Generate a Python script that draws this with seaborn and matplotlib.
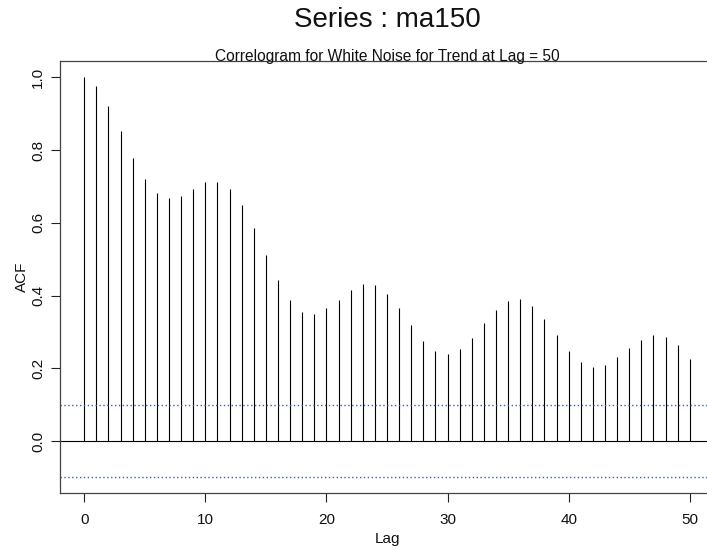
import numpy as np
import matplotlib
matplotlib.use("Agg")
import matplotlib.pyplot as plt
import seaborn as sns

# Sample autocorrelations of ma150, lags 0..50
lags = list(range(0, 51))
acf_values = [
    1.000, 0.977, 0.921, 0.852, 0.779, 0.721, 0.683, 0.669, 0.675, 0.694,
    0.711, 0.713, 0.694, 0.649, 0.586, 0.512, 0.443, 0.388, 0.355, 0.350,
    0.365, 0.389, 0.416, 0.431, 0.429, 0.405, 0.366, 0.319, 0.275, 0.247,
    0.239, 0.253, 0.284, 0.325, 0.361, 0.386, 0.390, 0.371, 0.336, 0.291,
    0.248, 0.217, 0.204, 0.209, 0.231, 0.256, 0.278, 0.291, 0.286, 0.263,
    0.225,
]
# White-noise significance bound
ci_bound = 0.098

x_ticks = [0, 10, 20, 30, 40, 50]
y_ticks = [0.0, 0.2, 0.4, 0.6, 0.8, 1.0]

sns.set_theme(style="ticks")
plt.rcParams["font.family"] = ["Liberation Sans", "DejaVu Sans"]

W, H = 707, 550
fig = plt.figure(figsize=(W / 100, H / 100), dpi=100)
ax = fig.add_axes([60 / W, (H - 493) / H, 654 / W, 432 / H])

# stems
ax.vlines(lags, 0, acf_values, color="black", linewidth=0.8)
ax.axhline(0, color="black", linewidth=0.8)
for b in (ci_bound, -ci_bound):
    ax.axhline(b, color="#2f5fc0", linewidth=1.0, dashes=(1.0, 1.8))

ax.set_xlim(-2, 52)
ax.set_ylim(-0.143, 1.045)
ax.set_xticks(x_ticks)
ax.set_xticklabels([str(v) for v in x_ticks])
ax.set_yticks(y_ticks)
ax.set_yticklabels([f"{v:.1f}" for v in y_ticks], rotation=90, va="center")

for side in ("left", "top", "bottom", "right"):
    ax.spines[side].set_color("#444444")
    ax.spines[side].set_linewidth(0.9)
ax.tick_params(axis="both", length=6.3, width=0.8, color="#222222",
               labelsize=11, labelcolor="#111111")
ax.tick_params(axis="x", pad=8)
ax.tick_params(axis="y", pad=4.5)

ax.set_xlabel("Lag", fontsize=11, labelpad=4, color="#111111")
ax.set_ylabel("ACF", fontsize=11, labelpad=1.3, color="#111111")

ax.text(0.5, 1.0, "Correlogram for White Noise for Trend at Lag = 50",
        transform=ax.transAxes, ha="center", va="baseline",
        fontsize=11.2, color="#111111")
fig.text(387 / W, 1 - 27 / H, "Series : ma150", ha="center", va="baseline",
         fontsize=20, color="#111111")

fig.savefig("out.png", dpi=100)
